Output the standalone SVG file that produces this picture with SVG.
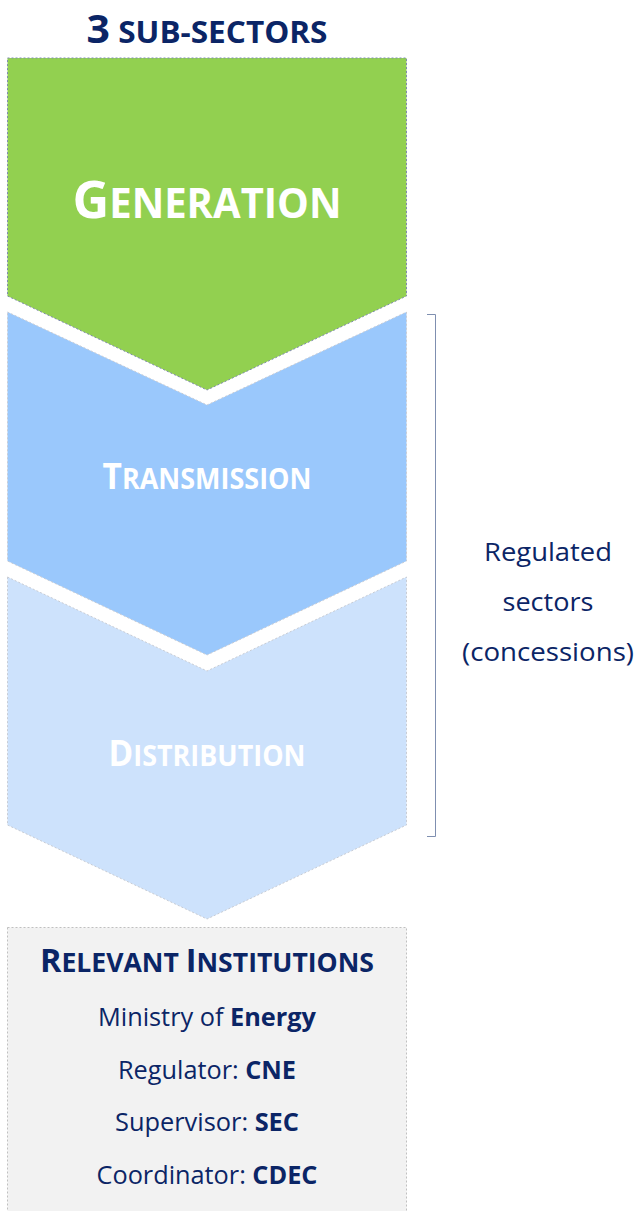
<svg xmlns="http://www.w3.org/2000/svg" width="634" height="1211" viewBox="0 0 634 1211">
<style>
.t{font-family:"Open Sans","Noto Sans","Liberation Sans",sans-serif;fill:#0b2566;}
.w{font-family:"Open Sans","Noto Sans","Liberation Sans",sans-serif;fill:#ffffff;font-weight:bold;}
.b{font-weight:bold;}
.shape{stroke-width:1;stroke-dasharray:2 2;}
</style>
<rect width="634" height="1211" fill="#ffffff"/>
<g id="title">
<text class="t b" x="207" y="43" text-anchor="middle" textLength="241" lengthAdjust="spacingAndGlyphs"><tspan font-size="39">3</tspan><tspan font-size="30"> SUB-SECTORS</tspan></text>
</g>
<g id="generation">
<polygon class="shape" points="7.5,58 406.5,58 406.5,296 207,390 7.5,296" fill="#92d050" stroke="#7f8ab0"/>
<text class="w" x="207" y="218" text-anchor="middle" textLength="269" lengthAdjust="spacingAndGlyphs"><tspan font-size="52">G</tspan><tspan font-size="41">ENERATION</tspan></text>
</g>
<g id="transmission">
<polygon class="shape" points="7.5,312 207,405 406.5,312 406.5,561 207,655 7.5,561" fill="#9ac8fc" stroke="#c8ccd4"/>
<text class="w" x="207" y="489" text-anchor="middle" textLength="209" lengthAdjust="spacingAndGlyphs"><tspan font-size="36">T</tspan><tspan font-size="29">RANSMISSION</tspan></text>
</g>
<g id="distribution">
<polygon class="shape" points="7.5,577 207,671 406.5,577 406.5,825 207,919 7.5,825" fill="#cde2fc" stroke="#c8ccd4"/>
<text class="w" x="207" y="766" text-anchor="middle" textLength="197" lengthAdjust="spacingAndGlyphs"><tspan font-size="36">D</tspan><tspan font-size="29">ISTRIBUTION</tspan></text>
</g>
<g id="institutions">
<rect class="shape" x="7.5" y="927.5" width="399" height="290" fill="#f2f2f2" stroke="#c0c0c0"/>
<text class="t b" x="207" y="972" text-anchor="middle" textLength="334" lengthAdjust="spacingAndGlyphs"><tspan font-size="33">R</tspan><tspan font-size="27">ELEVANT </tspan><tspan font-size="33">I</tspan><tspan font-size="27">NSTITUTIONS</tspan></text>
<text class="t" x="207" y="1026" font-size="25" text-anchor="middle" textLength="218" lengthAdjust="spacingAndGlyphs">Ministry of <tspan class="b">Energy</tspan></text>
<text class="t" x="207" y="1079" font-size="25" text-anchor="middle" textLength="178" lengthAdjust="spacingAndGlyphs">Regulator: <tspan class="b">CNE</tspan></text>
<text class="t" x="207" y="1131" font-size="25" text-anchor="middle" textLength="184" lengthAdjust="spacingAndGlyphs">Supervisor: <tspan class="b">SEC</tspan></text>
<text class="t" x="207" y="1184" font-size="25" text-anchor="middle" textLength="221" lengthAdjust="spacingAndGlyphs">Coordinator: <tspan class="b">CDEC</tspan></text>
</g>
<g id="regulated">
<text class="t" x="548" y="561" font-size="26" text-anchor="middle" textLength="128" lengthAdjust="spacingAndGlyphs">Regulated</text>
<text class="t" x="548" y="611" font-size="26" text-anchor="middle" textLength="91" lengthAdjust="spacingAndGlyphs">sectors</text>
<text class="t" x="548" y="661" font-size="26" text-anchor="middle" textLength="172" lengthAdjust="spacingAndGlyphs">(concessions)</text>
</g>
<g id="connectors">
<path d="M427,314.5 H435.5 V836.5 H427" fill="none" stroke="#7f8fb0" stroke-width="1"/>
</g>
</svg>
